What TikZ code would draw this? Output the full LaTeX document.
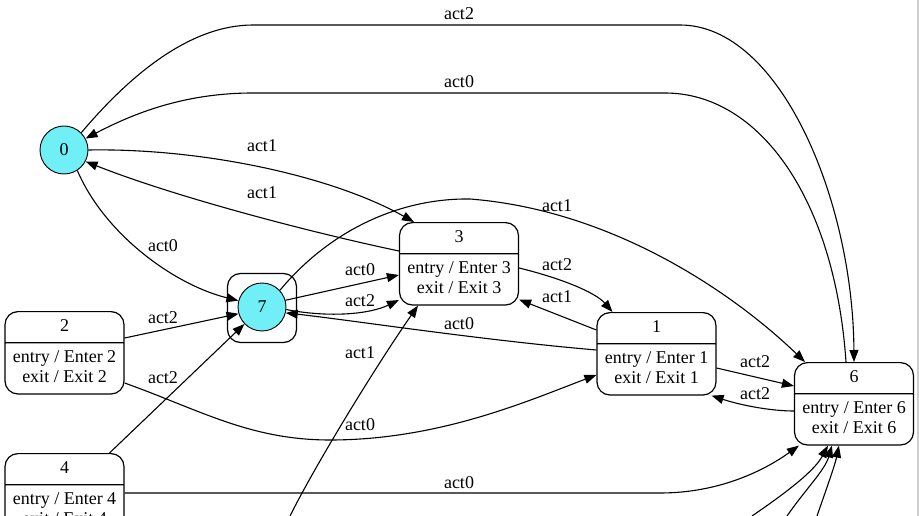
\documentclass[tikz,border=0pt]{standalone}
\usepackage{fontspec}
\setmainfont{Liberation Serif}
\definecolor{stcyan}{RGB}{112,240,246}
\definecolor{edgegray}{RGB}{205,205,205}
\usetikzlibrary{arrows.meta,positioning,shapes.multipart}

\begin{document}
\begin{tikzpicture}[x=1pt, y=-1pt,
  cstate/.style={circle, draw, line width=0.9pt, fill=stcyan,
                 minimum size=48pt, inner sep=0pt,
                 font=\fontsize{18}{20}\selectfont},
  cframe/.style={rectangle, draw, line width=1.2pt, rounded corners=13pt,
                 minimum width=69pt, minimum height=69pt, inner sep=0pt},
  sbox/.style={rectangle split, rectangle split parts=2, draw, line width=1.2pt,
               rounded corners=13pt, minimum width=119pt, inner ysep=5pt,
               inner xsep=4pt, align=center, anchor=north,
               font=\fontsize{18}{20}\selectfont},
  lbl/.style={inner sep=0pt, font=\fontsize{18}{20}\selectfont},
  arr/.style={-{Triangle[length=12pt,width=9pt]}, line width=1.1pt}
]
\useasboundingbox (0,0) rectangle (919,516);
\clip (0,0) rectangle (919,516);
\fill[edgegray] (916.5,0) rectangle (919,516);

% Circle states
\node[cstate] (n0) at (64,150) {0};
\node[cframe] (n7frame) at (262,308) {};
\node[cstate] (n7) at (262,307) {7};

% Box states
\node[sbox] (n3) at (459,222)
  {\strut 3\nodepart{two}\strut entry / Enter 3\\\strut exit / Exit 3};
\node[sbox] (n1) at (656.5,312)
  {\strut 1\nodepart{two}\strut entry / Enter 1\\\strut exit / Exit 1};
\node[sbox] (n2) at (64.5,311)
  {\strut 2\nodepart{two}\strut entry / Enter 2\\\strut exit / Exit 2};
\node[sbox] (n6) at (854,362)
  {\strut 6\nodepart{two}\strut entry / Enter 6\\\strut exit / Exit 6};
\node[sbox] (n4) at (64.5,453)
  {\strut 4\nodepart{two}\strut entry / Enter 4\\\strut exit / Exit 4};

% Loose ends below the page
\coordinate (f3)  at (290,516);
\coordinate (f6a) at (752,516);
\coordinate (f6b) at (787,516);
\coordinate (f6c) at (817,516);

% Edges
\draw[arr] (n0.45) .. controls (130,75) and (190,25) .. (253,25) -- (680,25)
  .. controls (780,25) and (853,200) .. (n6.north);
\draw[arr] ([xshift=-8pt]n6.north) .. controls (835,200) and (760,93) .. (665,93)
  -- (253,93) .. controls (190,93) and (140,110) .. (n0.28);
\draw[arr] (n0.east) .. controls (200,148) and (330,175) .. ([xshift=-45pt]n3.north);
\draw[arr] ([yshift=-29pt]n3.north west) .. controls (300,230) and (170,195) .. (n0.-28);
\draw[arr] (n0.-57) .. controls (105,235) and (175,285) .. (n7.165);
\draw[arr] (n7.43) .. controls (330,230) and (400,198) .. (470,199)
  .. controls (610,210) and (730,290) .. ([xshift=-49pt]n6.north);
\draw[arr] (n7.16) -- ([yshift=-53pt]n3.north west);
\draw[arr] (n7.-6) .. controls (330,318) and (370,314) .. ([yshift=-78pt]n3.north west);
\draw[arr] ([yshift=-38pt]n1.north west) .. controls (480,340) and (350,320) .. (n7.-14);
\draw[arr] ([yshift=-46pt]n3.north east) .. controls (560,278) and (595,292) .. ([xshift=-44pt]n1.north);
\draw[arr] ([yshift=-18pt]n1.north west) -- ([yshift=6pt]n3.south east);
\draw[arr] ([yshift=-56pt]n1.north east) -- ([yshift=-24pt]n6.north west);
\draw[arr] ([yshift=-49pt]n6.north west) .. controls (770,411) and (740,405) .. ([xshift=-5pt]n1.south east);
\draw[arr] ([yshift=-27pt]n2.north east) -- (n7.196);
\draw[arr] ([yshift=-72pt]n2.north east) .. controls (200,410) and (250,440) .. (330,440)
  .. controls (440,440) and (530,400) .. ([yshift=-63pt]n1.north west);
\draw[arr] ([xshift=45pt]n4.north) -- (n7.224);
\draw[arr] (f3) .. controls (318,460) and (380,360) .. ([xshift=-41pt]n3.south);
\draw[arr] ([yshift=-40pt]n4.north east) -- (660,493)
  .. controls (720,493) and (765,470) .. ([xshift=5pt]n6.south west);
\draw[arr] (f6a) .. controls (790,490) and (815,470) .. ([xshift=34pt]n6.south west);
\draw[arr] (f6b) .. controls (805,490) and (825,470) .. ([xshift=38pt]n6.south west);
\draw[arr] (f6c) .. controls (826,490) and (835,465) .. ([xshift=45pt]n6.south west);

% Edge labels
\node[lbl] (l06)  at (459,14)  {act2};
\node[lbl] (l60)  at (459,82)  {act0};
\node[lbl] (l03)  at (262,146) {act1};
\node[lbl] (l30)  at (262,193) {act1};
\node[lbl] (l07)  at (163,246) {act0};
\node[lbl] (l76)  at (557,206) {act1};
\node[lbl] (l73a) at (360,270) {act0};
\node[lbl] (l73b) at (360,301) {act2};
\node[lbl] (l17)  at (459,324) {act0};
\node[lbl] (l31)  at (557,265) {act2};
\node[lbl] (l13)  at (557,297) {act1};
\node[lbl] (l16)  at (755,362) {act2};
\node[lbl] (l61)  at (755,394) {act2};
\node[lbl] (l27)  at (163,318) {act2};
\node[lbl] (l21)  at (360,425) {act0};
\node[lbl] (l47)  at (163,378) {act2};
\node[lbl] (lf3)  at (360,353) {act1};
\node[lbl] (l46)  at (459,483) {act0};
\end{tikzpicture}
\end{document}
